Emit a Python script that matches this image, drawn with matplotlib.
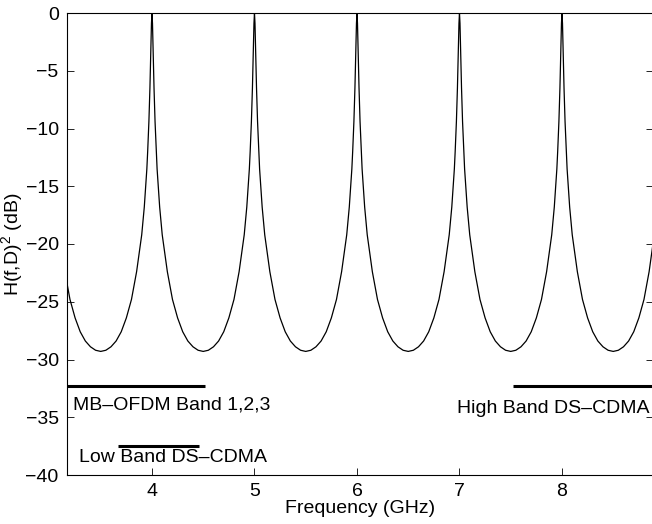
import numpy as np
import matplotlib
matplotlib.use("Agg")
from matplotlib import pyplot as plt

plt.rcParams["font.family"] = ["Liberation Sans", "DejaVu Sans"]
plt.rcParams["mathtext.fontset"] = "custom"
plt.rcParams["mathtext.rm"] = "Liberation Sans"
plt.rcParams["mathtext.it"] = "Liberation Sans"

# Resonance peaks of the comb response (GHz)
peak_freqs = [3.0, 4.0, 5.0, 6.0, 7.0, 8.0, 9.0]

# One half period of the response:
# offset from a peak (GHz) and |H(f,D)|^2 (dB)
profile_offset = [0.0, 0.005, 0.01, 0.02, 0.03, 0.042, 0.05, 0.075, 0.1,
                  0.12, 0.15, 0.2, 0.25, 0.3, 0.35, 0.4, 0.45, 0.5]
profile_db = [0.0, -0.9, -2.7, -6.5, -9.4, -12.0, -13.5, -16.8, -19.2,
              -20.5, -22.4, -24.8, -26.4, -27.6, -28.4, -28.9, -29.2, -29.3]

# Band markers: (start GHz, stop GHz, level dB)
band_names = ["MB\u2013OFDM Band 1,2,3", "Low Band DS\u2013CDMA", "High Band DS\u2013CDMA"]
band_start = [3.171, 3.668, 7.522]
band_stop = [4.517, 4.459, 8.888]
band_level = [-32.3, -37.5, -32.3]
label_x = [3.23, 3.29, 6.975]
label_y = [-33.9, -38.5, -34.2]

# stitch the half-period profile around each peak
off = np.array(profile_offset)
val = np.array(profile_db)
freq, resp = [], []
for p in peak_freqs:
    freq.extend(p - off[:0:-1])
    resp.extend(val[:0:-1])
    freq.extend(p + off[:-1])
    resp.extend(val[:-1])

fig = plt.figure(figsize=(6.52, 5.24), dpi=100)
ax = fig.add_axes([67 / 652, 1 - 475 / 524, (653 - 67) / 652, (475 - 13) / 524])

ax.plot(freq, resp, color="k", lw=0.9)
for x0, x1, y, name, tx, ty in zip(band_start, band_stop, band_level,
                                    band_names, label_x, label_y):
    ax.plot([x0, x1], [y, y], color="k", lw=2.2, solid_capstyle="butt")
    ax.text(tx, ty, name, fontsize=14, ha="left", va="center")

ax.set_xlim(3.171, 8.888)
ax.set_ylim(-40, 0)
ax.set_xticks([4, 5, 6, 7, 8])
ax.set_yticks(np.arange(-40, 1, 5))
ax.tick_params(direction="in", length=5, width=0.6, top=True, right=True,
               labelsize=14, pad=6)
for s in ax.spines.values():
    s.set_linewidth(0.8)

ax.set_xlabel("Frequency (GHz)", fontsize=14, labelpad=0)
ax.set_ylabel(r"H(f,D)$^2$ (dB)", fontsize=14, labelpad=0)

fig.savefig("out.png", dpi=100)
